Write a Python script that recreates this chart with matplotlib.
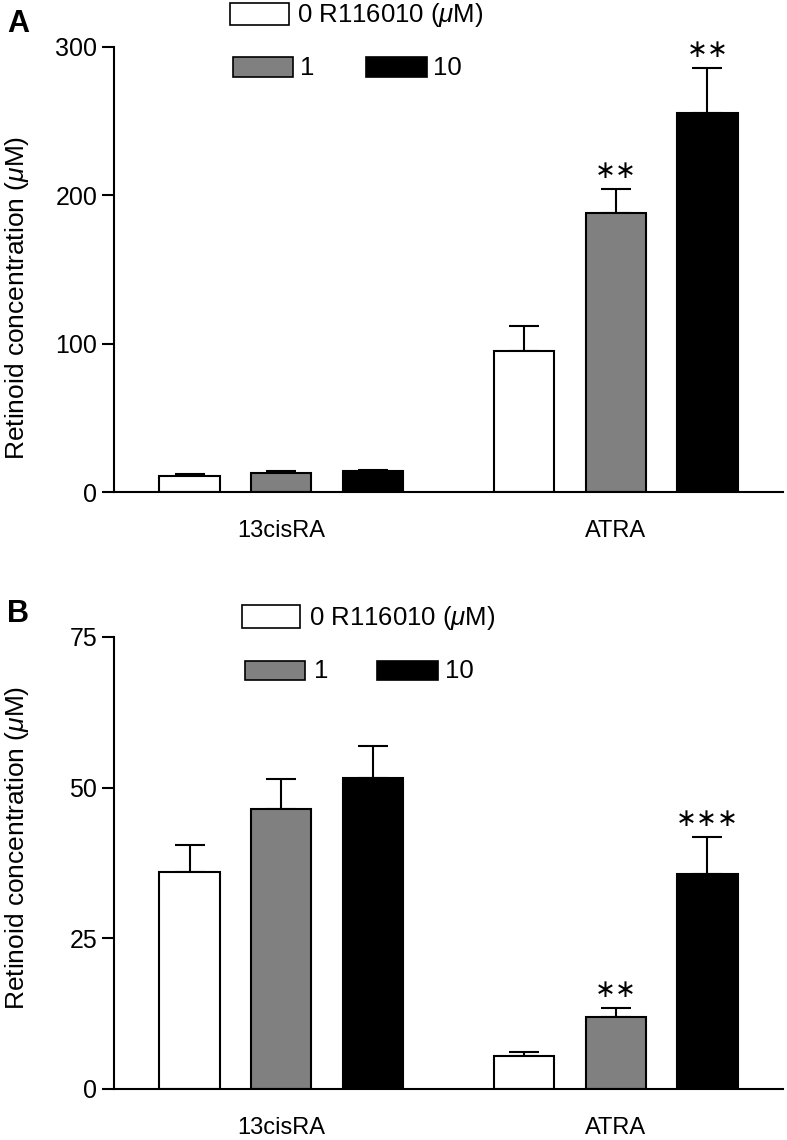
"""Retinoid concentrations with R116010 treatment: two bar panels (A, B)."""
import numpy as np
import matplotlib
matplotlib.use("Agg")
import matplotlib.pyplot as plt
from matplotlib.patches import Rectangle

plt.rcParams["font.family"] = ["Liberation Sans", "DejaVu Sans"]
plt.rcParams["mathtext.fontset"] = "custom"
plt.rcParams["mathtext.it"] = "Liberation Sans:italic"

categories = ["13cisRA", "ATRA"]
doses = ["0", "1", "10"]
colors = ["white", "#808080", "black"]

# panel A
a_mean = {"0": [10.8, 95.1], "1": [12.8, 188.1], "10": [14.0, 255.5]}
a_err = {"0": [1.3, 16.8], "1": [1.4, 16.2], "10": [1.0, 30.3]}
a_stars = {"0": ["", ""], "1": ["", "**"], "10": ["", "**"]}

# panel B
b_mean = {"0": [36.0, 5.5], "1": [46.4, 11.9], "10": [51.6, 35.6]}
b_err = {"0": [4.5, 0.6], "1": [5.0, 1.5], "10": [5.3, 6.2]}
b_stars = {"0": ["", ""], "1": ["", "**"], "10": ["", "***"]}

W, H = 787, 1140
TICK_FS = 18
CAT_FS = 17
LAB_FS = 19
LEG_FS = 18.5
UNIT = r"($\mathit{\mu}$M)"


def px(x, y):
    # pixel (from top-left) -> figure fraction
    return x / W, 1 - y / H


def draw_panel(fig, rect_px, mean, err, stars, ymax, yticks, letter, letter_y,
               ylab_y, legend_px):
    x0, y0, x1, y1 = rect_px
    l, b = px(x0, y1)
    r, t = px(x1, y0)
    ax = fig.add_axes([l, b, r - l, t - b])

    x = np.arange(len(categories))
    offs = [-0.274, 0.0, 0.274]
    width = 0.18
    for i, d in enumerate(doses):
        xs = x + offs[i]
        ax.bar(xs, mean[d], width, color=colors[i], edgecolor="black",
               linewidth=1.5, zorder=2)
        ax.errorbar(xs, mean[d], yerr=[np.zeros(len(categories)), err[d]],
                    fmt="none", ecolor="black", elinewidth=1.5,
                    capsize=10.5, capthick=1.5, zorder=1)
        for xi, m, e, s in zip(xs, mean[d], err[d], stars[d]):
            if s:
                ax.annotate(s.replace("*", "\u2217"), (xi, m + e),
                            xytext=(0, 13), textcoords="offset points",
                            ha="center", va="center", fontsize=18,
                            family="DejaVu Sans", color="black")

    ax.set_xlim(-0.5, 1.5)
    ax.set_ylim(0, ymax)
    ax.set_yticks(yticks)
    ax.set_xticks(x)
    ax.set_xticklabels(categories, fontsize=CAT_FS)
    ax.tick_params(axis="x", length=0, pad=20)
    ax.tick_params(axis="y", length=9, width=1.5, labelsize=TICK_FS, pad=3)
    for sp in ["top", "right"]:
        ax.spines[sp].set_visible(False)
    for sp in ["left", "bottom"]:
        ax.spines[sp].set_linewidth(1.5)
    ax.set_ylabel("Retinoid concentration " + UNIT, fontsize=LAB_FS, va="center")
    ax.yaxis.set_label_coords((17 - x0) / (x1 - x0), (y1 - ylab_y) / (y1 - y0))

    fig.text(*px(7, letter_y), letter, fontsize=22, fontweight="bold",
             va="center", ha="left")

    # legend boxes drawn in figure space
    for (bx, by, bw, bh, lbl, tx), c in zip(legend_px, colors):
        fx, fy = px(bx, by + bh)
        fig.patches.append(Rectangle((fx, fy), bw / W, bh / H, facecolor=c,
                                     edgecolor="black", linewidth=1.2,
                                     transform=fig.transFigure))
        fig.text(*px(tx, by + bh / 2 + 1), lbl, fontsize=LEG_FS, va="center",
                 ha="left")
    return ax


fig = plt.figure(figsize=(W / 100, H / 100), dpi=100)

draw_panel(fig, (114, 47, 783, 492), a_mean, a_err, a_stars, 300,
           [0, 100, 200, 300], "A", 24, 298,
           [(230, 3, 59, 22, "0 R116010 " + UNIT, 297),
            (233, 57, 60, 20, "1", 300),
            (366, 57, 61, 20, "10", 433)])

draw_panel(fig, (114, 637, 783, 1089), b_mean, b_err, b_stars, 75,
           [0, 25, 50, 75], "B", 614, 848,
           [(242, 605, 58, 23, "0 R116010 " + UNIT, 309),
            (245, 661, 60, 19, "1", 314),
            (377, 661, 61, 19, "10", 445)])

fig.savefig("out.png", dpi=100)
